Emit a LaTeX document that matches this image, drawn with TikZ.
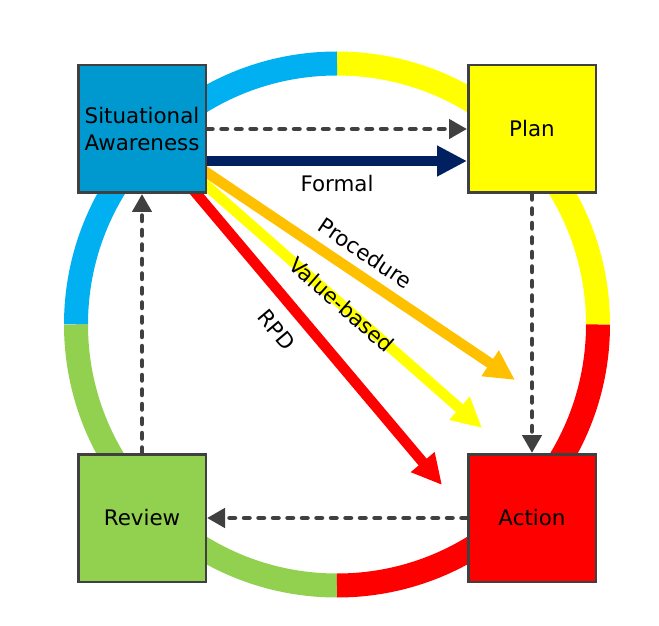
\documentclass[tikz,border=0pt]{standalone}
\usepackage{fontspec}
\setmainfont{DejaVu Sans}
\usetikzlibrary{arrows.meta}

\definecolor{ringBlue}{HTML}{00B0F0}
\definecolor{saBlue}{HTML}{0099CF}
\definecolor{ringYellow}{HTML}{FFFF00}
\definecolor{ringRed}{HTML}{FF0000}
\definecolor{ringGreen}{HTML}{92D050}
\definecolor{procOrange}{HTML}{FFC000}
\definecolor{formalNavy}{HTML}{002060}
\definecolor{boxGray}{HTML}{404040}

\tikzset{
    stagebox/.style={draw=boxGray, line width=2.5pt, minimum size=127.5pt, inner sep=0pt, align=center, text=black},
    loopline/.style={draw=boxGray, line width=4.5pt, dash pattern=on 5.5pt off 9pt, line cap=round, -{Triangle[length=18pt,width=19pt]}},
    pathline/.style={line width=10.5pt, -{Triangle[length=30pt,width=29pt]}},
}

\begin{document}
\begin{tikzpicture}[x=1pt, y=1pt, font=\fontsize{21.4}{26.5}\selectfont]
    \useasboundingbox (0, 0) rectangle (659, 625);

    \coordinate (C) at (337, 300.5);
    \coordinate (saC) at (142, 496);
    \coordinate (procTip) at (515, 245);
    \coordinate (valTip) at (482, 197);
    \coordinate (rpdTip) at (442, 140);

    % ring
    \foreach \col/\ang in {ringYellow/0, ringBlue/90, ringGreen/180, ringRed/270}
        \draw [\col, line width=24pt] ([shift={(\ang:261pt)}]C) arc [start angle=\ang, delta angle=90, radius=261pt];

    % decision paths
    \draw [pathline, procOrange] (saC) -- node [pos=0.567, above=5pt, sloped, text=black] {Procedure} (procTip);
    \draw [pathline, ringYellow] (saC) -- node [pos=0.587, sloped, text=black] {Value-based} (valTip);
    \draw [pathline, ringRed] (saC) -- node [pos=0.516, below=10pt, sloped, text=black] {RPD} (rpdTip);

    \node [stagebox, fill=saBlue] (SA) at (saC) {Situational\\Awareness};
    \node [stagebox, fill=ringYellow] (Plan) at (532, 496) {Plan};
    \node [stagebox, fill=ringGreen] (Review) at (142, 107) {Review};
    \node [stagebox, fill=ringRed] (Action) at (532, 107) {Action};

    \draw [pathline, formalNavy, line width=10pt] ([yshift=-32pt]SA.east) -- node [below=6pt, text=black] {Formal} ([yshift=-32pt]Plan.west);

    \draw [loopline] (SA.east) -- (Plan.west);
    \draw [loopline] (Plan.south) -- (Action.north);
    \draw [loopline] (Action.west) -- (Review.east);
    \draw [loopline] (Review.north) -- (SA.south);
\end{tikzpicture}
\end{document}
